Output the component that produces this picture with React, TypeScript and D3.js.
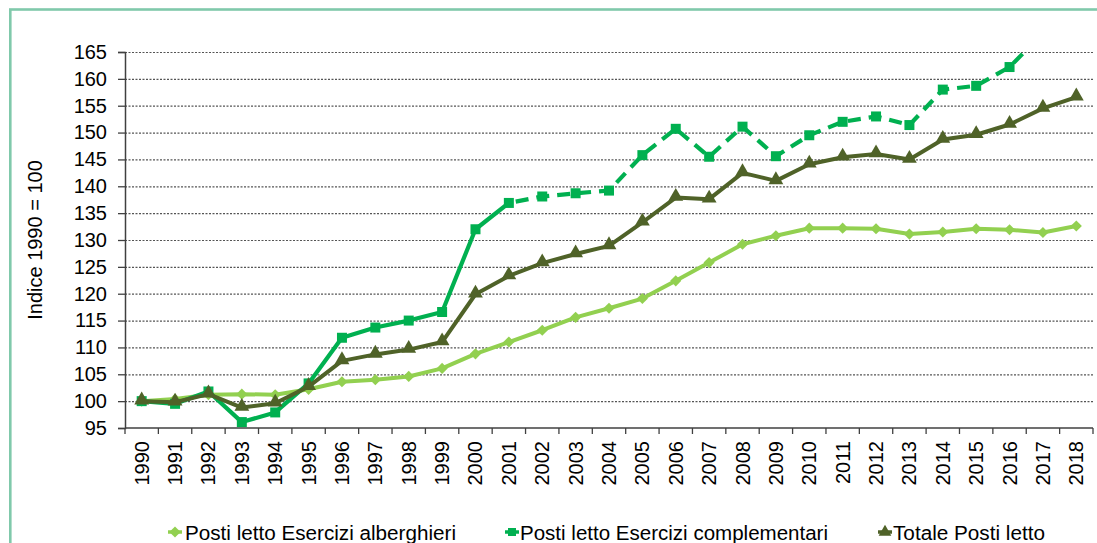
import React, { useEffect, useRef } from "react";
import * as d3 from "d3";

const years = [
  "1990", "1991", "1992", "1993", "1994", "1995", "1996", "1997", "1998", "1999",
  "2000", "2001", "2002", "2003", "2004", "2005", "2006", "2007", "2008", "2009",
  "2010", "2011", "2012", "2013", "2014", "2015", "2016", "2017", "2018",
];

const alberghieri = [
  100, 100.4, 101.2, 101.3, 101.2, 102.2, 103.6, 104.0, 104.6, 106.1,
  108.8, 111.0, 113.2, 115.6, 117.3, 119.1, 122.4, 125.8, 129.2, 130.8,
  132.2, 132.2, 132.1, 131.1, 131.5, 132.1, 131.9, 131.4, 132.6,
];

const complementari = [
  100, 99.5, 101.8, 96.1, 97.9, 103.3, 111.8, 113.7, 115.0, 116.6,
  132.0, 136.9, 138.1, 138.7, 139.2, 145.8, 150.7, 145.5, 151.1, 145.6,
  149.5, 152.0, 153.0, 151.4, 158.0, 158.7, 162.2, 168.5, 171.0,
];

const totale = [
  100, 99.8, 101.3, 98.8, 99.6, 102.7, 107.5, 108.7, 109.6, 111.0,
  119.9, 123.3, 125.7, 127.4, 128.9, 133.3, 137.9, 137.6, 142.5, 141.0,
  144.1, 145.4, 146.0, 145.0, 148.7, 149.6, 151.5, 154.5, 156.6,
];

const yTicks = [95, 100, 105, 110, 115, 120, 125, 130, 135, 140, 145, 150, 155, 160, 165];

const seriesNames = [
  "Posti letto Esercizi alberghieri",
  "Posti letto Esercizi complementari",
  "Totale Posti letto",
];

// anno da cui la serie complementari è tratteggiata
const dashedFrom = "2001";

const W = 1097;
const H = 543;
const FONT = "'Liberation Sans', Arial, sans-serif";

export default function App() {
  const ref = useRef<SVGGElement>(null);

  useEffect(() => {
    const g = d3.select(ref.current);
    g.selectAll("*").remove();

    const left = 125, right = 1093, top = 52, bottom = 428;
    const x = d3.scaleBand().domain(years).range([left, right]);
    const y = d3.scaleLinear().domain([95, 165]).range([bottom, top]);
    const cx = (d) => x(d) + x.bandwidth() / 2;

    // cornice
    g.append("rect")
      .attr("x", 10.3).attr("y", 9.5)
      .attr("width", 1300).attr("height", 700)
      .attr("fill", "none").attr("stroke", "#80C9AB").attr("stroke-width", 2.6);

    // griglia
    g.append("g")
      .selectAll("line")
      .data(yTicks.filter((t) => t > 95))
      .join("line")
      .attr("x1", left).attr("x2", right)
      .attr("y1", (d) => y(d) + 0.5).attr("y2", (d) => y(d) + 0.5)
      .attr("stroke", "#555").attr("stroke-width", 1.2)
      .attr("stroke-dasharray", "2,1.5");

    // asse y
    const yAxis = g.append("g")
      .attr("transform", `translate(${left},0)`)
      .call(d3.axisLeft(y).tickValues(yTicks).tickSize(7).tickPadding(11));
    yAxis.select(".domain").attr("stroke", "#404040").attr("stroke-width", 1.5);
    yAxis.selectAll(".tick line").attr("stroke", "#404040").attr("stroke-width", 1.3);
    yAxis.selectAll("text")
      .attr("font-family", FONT).attr("font-size", 20).attr("fill", "#000");

    // asse x
    g.append("line")
      .attr("x1", left).attr("x2", right)
      .attr("y1", bottom).attr("y2", bottom)
      .attr("stroke", "#404040").attr("stroke-width", 1.5);
    g.append("g")
      .selectAll("line")
      .data(years.concat(["end"]))
      .join("line")
      .attr("x1", (d) => (d === "end" ? right : x(d)))
      .attr("x2", (d) => (d === "end" ? right : x(d)))
      .attr("y1", bottom).attr("y2", bottom + 6)
      .attr("stroke", "#404040").attr("stroke-width", 1.3);
    g.append("g")
      .selectAll("text")
      .data(years)
      .join("text")
      .attr("transform", (d) => `translate(${cx(d)},${bottom + 13}) rotate(-90)`)
      .attr("text-anchor", "end")
      .attr("dominant-baseline", "central")
      .attr("font-family", FONT).attr("font-size", 20)
      .text((d) => d);

    // titolo asse y
    g.append("text")
      .attr("transform", `translate(35,240) rotate(-90)`)
      .attr("text-anchor", "middle")
      .attr("dominant-baseline", "central")
      .attr("font-family", FONT).attr("font-size", 20)
      .text("Indice 1990 = 100");

    // clip area
    g.append("clipPath").attr("id", "plotclip")
      .append("rect").attr("x", 0).attr("y", top).attr("width", W).attr("height", H);

    const plot = g.append("g").attr("clip-path", "url(#plotclip)");
    const line = d3.line<[string, number]>().x((d) => cx(d[0])).y((d) => y(d[1]));
    const pairs = (vals) => years.map((yr, i) => [yr, vals[i]] as [string, number]);

    const diamond = d3.symbol().type(d3.symbolSquare).size(62)();
    const square = d3.symbol().type(d3.symbolSquare).size(100)();
    const triangle = d3.symbol().type(d3.symbolTriangle).size(95)();

    // alberghieri
    plot.append("path")
      .attr("d", line(pairs(alberghieri)))
      .attr("fill", "none").attr("stroke", "#92D050").attr("stroke-width", 4)
      .attr("stroke-linejoin", "round");
    plot.append("g").selectAll("path")
      .data(pairs(alberghieri))
      .join("path")
      .attr("d", diamond)
      .attr("transform", (d) => `translate(${cx(d[0])},${y(d[1])}) rotate(45)`)
      .attr("fill", "#92D050");

    // complementari
    const comp = pairs(complementari);
    const cut = years.indexOf(dashedFrom);
    plot.append("path")
      .attr("d", line(comp.slice(0, cut + 1)))
      .attr("fill", "none").attr("stroke", "#00B050").attr("stroke-width", 4.2)
      .attr("stroke-linejoin", "round");
    plot.append("path")
      .attr("d", line(comp.slice(cut)))
      .attr("fill", "none").attr("stroke", "#00B050").attr("stroke-width", 4.2)
      .attr("stroke-dasharray", "13,8")
      .attr("stroke-dashoffset", -7);
    plot.append("g").selectAll("path")
      .data(comp)
      .join("path")
      .attr("d", square)
      .attr("transform", (d) => `translate(${cx(d[0])},${y(d[1])})`)
      .attr("fill", "#00B050");

    // totale
    plot.append("path")
      .attr("d", line(pairs(totale)))
      .attr("fill", "none").attr("stroke", "#4F6228").attr("stroke-width", 4)
      .attr("stroke-linejoin", "round");
    plot.append("g").selectAll("path")
      .data(pairs(totale))
      .join("path")
      .attr("d", triangle)
      .attr("transform", (d) => `translate(${cx(d[0])},${y(d[1]) - 1})`)
      .attr("fill", "#4F6228");

    // legenda
    const legendItems = [
      { name: seriesNames[0], color: "#92D050", sym: diamond, rot: 45, mx: 175, tx: 185, w: 271 },
      { name: seriesNames[1], color: "#00B050", sym: d3.symbol().type(d3.symbolSquare).size(64)(), rot: 0, mx: 512, tx: 520, w: 308 },
      { name: seriesNames[2], color: "#4F6228", sym: d3.symbol().type(d3.symbolTriangle).size(70)(), rot: 0, mx: 885, tx: 893, w: 152 },
    ];
    const lg = g.append("g").selectAll("g").data(legendItems).join("g");
    lg.append("line")
      .attr("x1", (d) => d.mx - 7).attr("x2", (d) => d.mx + 7)
      .attr("y1", 532).attr("y2", 532)
      .attr("stroke", (d) => d.color).attr("stroke-width", 3.5);
    lg.append("path")
      .attr("d", (d) => d.sym)
      .attr("transform", (d) => `translate(${d.mx},532) rotate(${d.rot})`)
      .attr("fill", (d) => d.color);
    lg.append("text")
      .attr("x", (d) => d.tx).attr("y", 540)
      .attr("font-family", FONT).attr("font-size", 19.5)
      .attr("textLength", (d) => d.w)
      .attr("lengthAdjust", "spacingAndGlyphs")
      .text((d) => d.name);
  }, []);

  return (
    <svg
      width={W}
      height={H}
      style={{ position: "absolute", left: 0, top: 0, background: "#fff" }}
    >
      <g ref={ref} />
    </svg>
  );
}
